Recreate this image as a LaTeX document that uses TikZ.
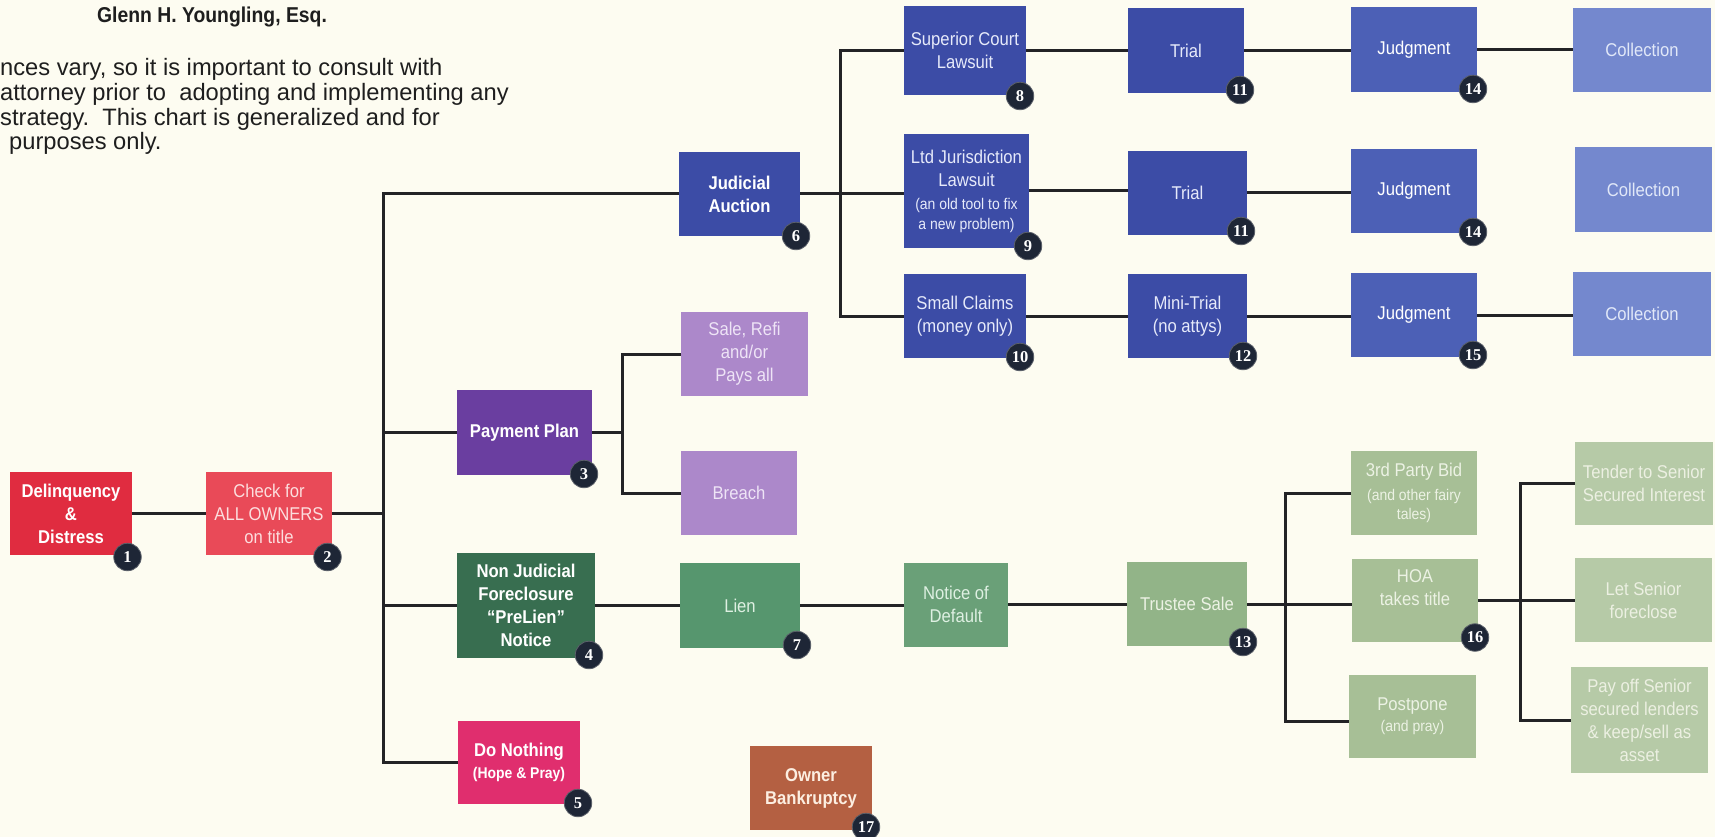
\documentclass[tikz,border=0pt]{standalone}
\usepackage{fontspec}
\setmainfont{Liberation Sans}
\newfontfamily\boxfont[FakeStretch=0.9]{Liberation Sans}
\newfontfamily\numfont{Liberation Serif}
\newcommand\myReg{\boxfont\fontsize{18.5}{23}\selectfont}
\newcommand\myBold{\boxfont\bfseries\fontsize{18.5}{23}\selectfont}
\newcommand\mySmall{\fontsize{15.5}{19}\selectfont}
\newcommand\myNum{\numfont\bfseries\fontsize{16.5}{16.5}\selectfont}
\newcommand\myHead{\boxfont\bfseries\fontsize{21.5}{25}\selectfont}
\newcommand\myPara{\fontsize{23.7}{25}\selectfont}
\definecolor{bg}{RGB}{253,252,241}
\definecolor{linec}{RGB}{35,35,38}
\definecolor{cdel}{RGB}{224,44,64}
\definecolor{cchk}{RGB}{233,74,88}
\definecolor{cpay}{RGB}{106,62,160}
\definecolor{clav}{RGB}{172,136,202}
\definecolor{cnonj}{RGB}{56,110,80}
\definecolor{clien}{RGB}{86,150,110}
\definecolor{cnotice}{RGB}{106,160,120}
\definecolor{ctrust}{RGB}{146,180,136}
\definecolor{csage}{RGB}{167,191,150}
\definecolor{cpale}{RGB}{182,202,167}
\definecolor{cdono}{RGB}{224,46,110}
\definecolor{cblue}{RGB}{60,76,166}
\definecolor{cjudg}{RGB}{76,96,182}
\definecolor{ccoll}{RGB}{116,136,206}
\definecolor{cown}{RGB}{180,96,66}
\definecolor{cbadge}{RGB}{30,38,54}
\definecolor{cbrim}{RGB}{90,95,105}
\definecolor{tchk}{RGB}{252,222,222}
\definecolor{tlav}{RGB}{238,228,246}
\definecolor{tgreen}{RGB}{222,240,226}
\definecolor{tsage}{RGB}{236,242,228}
\definecolor{tpale}{RGB}{236,240,226}
\definecolor{tblue}{RGB}{230,234,250}
\definecolor{tcoll}{RGB}{225,232,248}
\definecolor{town}{RGB}{252,238,225}
\definecolor{ttext}{RGB}{30,30,30}
\begin{document}
\begin{tikzpicture}[x=1pt,y=-1pt,
  box/.style={inner sep=0pt, outer sep=0pt, align=center, text=white, font=\myReg},
  sz/.style 2 args={minimum width=#1pt, minimum height=#2pt},
  conn/.style={draw=linec, line width=3pt},
  badge/.style={circle, fill=cbadge, draw=cbrim, line width=0.8pt, minimum size=27.5pt, inner sep=0pt, text=white, font=\myNum},
  para/.style={font=\myPara, anchor=west, inner sep=0pt, text=ttext}
]
\fill[bg] (0,0) rectangle (1715,837);
\useasboundingbox (0,0) rectangle (1715,837);

% header texts
\node[font=\myHead, text=ttext] (hdr) at (212,17) {Glenn H. Youngling, Esq.};
\node[para] (p1) at (0,69) {nces vary, so it is important to consult with};
\node[para] (p2) at (0,94) {attorney prior to\ \ adopting and implementing any};
\node[para] (p3) at (0,119) {strategy.\ \ This chart is generalized and for};
\node[para] (p4) at (9,143.5) {purposes only.};

% boxes
\node[box,fill=cdel,sz={122}{83},font=\myBold] (del) at (71,513.5) {Delinquency\\\&\\Distress};
\node[box,fill=cchk,sz={126}{83},text=tchk] (chk) at (269,513.5) {Check for\\ALL OWNERS\\on title};
\node[box,fill=cpay,sz={135}{85},font=\myBold] (pay) at (524.5,432.5) {Payment Plan};
\node[box,fill=cnonj,sz={138}{105},font=\myBold] (nonj) at (526,605.5) {Non Judicial\\Foreclosure\\“PreLien”\\Notice};
\node[box,fill=cdono,sz={122}{83},font=\myBold] (dono) at (519,762.5) {Do Nothing\\[-1pt]{\mySmall (Hope \& Pray)}};
\node[box,fill=cblue,sz={121}{84},font=\myBold] (jud) at (739.5,194) {Judicial\\Auction};
\node[box,fill=clien,sz={120}{85},text=tgreen] (lien) at (740,605.5) {Lien};
\node[box,fill=clav,sz={127}{84},text=tlav] (sale) at (744.5,354) {Sale, Refi\\and/or\\Pays all};
\node[box,fill=clav,sz={116}{84},text=tlav] (breach) at (739,493) {Breach};
\node[box,fill=cblue,sz={122}{89},text=tblue] (sup) at (965,50.5) {Superior Court\\Lawsuit};
\node[box,fill=cblue,sz={125}{114},text=tblue] (ltd) at (966.5,191) {Ltd Jurisdiction\\Lawsuit\\{\mySmall (an old tool to fix}\\[-3pt]{\mySmall a new problem)}};
\node[box,fill=cblue,sz={122}{84},text=tblue] (small) at (965,316) {Small Claims\\(money only)};
\node[box,fill=cblue,sz={116}{85},text=tblue] (trialA) at (1186,50.5) {Trial};
\node[box,fill=cblue,sz={119}{84},text=tblue] (trialB) at (1187.5,193) {Trial};
\node[box,fill=cblue,sz={119}{84},text=tblue] (mini) at (1187.5,316) {Mini-Trial\\(no attys)};
\node[box,fill=cjudg,sz={126}{85}] (judgA) at (1414,49.5) {Judgment};
\node[box,fill=cjudg,sz={126}{84}] (judgB) at (1414,191) {Judgment};
\node[box,fill=cjudg,sz={126}{84}] (judgC) at (1414,315) {Judgment};
\node[box,fill=ccoll,sz={138}{84},text=tcoll] (collA) at (1642,50) {Collection};
\node[box,fill=ccoll,sz={137}{85},text=tcoll] (collB) at (1643.5,189.5) {Collection};
\node[box,fill=ccoll,sz={138}{84},text=tcoll] (collC) at (1642,314) {Collection};
\node[box,fill=cnotice,sz={104}{84},text=tgreen] (notice) at (956,604.5) {Notice of\\Default};
\node[box,fill=ctrust,sz={120}{84},text=tsage] (trust) at (1187,604) {Trustee Sale};
\node[box,fill=csage,sz={126}{84},text=tsage] (third) at (1414,493) {3rd Party Bid\\[1pt]{\mySmall (and other fairy}\\[-4pt]{\mySmall tales)}};
\node[box,fill=csage,sz={126}{83}] (hoa) at (1415,600) {};
\node[box,text=tsage] (hoatxt) at (1415,588) {HOA\\takes title};
\node[box,fill=csage,sz={127}{83},text=tsage] (post) at (1412.5,716.5) {Postpone\\[-2pt]{\mySmall (and pray)}};
\node[box,fill=cpale,sz={138}{83},text=tpale] (tender) at (1644,483.5) {Tender to Senior\\Secured Interest};
\node[box,fill=cpale,sz={137}{84},text=tpale] (let) at (1643.5,600) {Let Senior\\foreclose};
\node[box,fill=cpale,sz={137}{106},text=tpale] (payoff) at (1639.5,720) {Pay off Senior\\secured lenders\\\& keep/sell as\\asset};
\node[box,fill=cown,sz={122}{84},font=\myBold,text=town] (own) at (811,788) {Owner\\Bankruptcy};

% trunk coordinates
\coordinate (tA) at (383,0);
\coordinate (tB) at (622,0);
\coordinate (tC) at (840,0);
\coordinate (tD) at (1285,0);
\coordinate (tE) at (1520,0);
\coordinate (pj) at ([yshift=-4.5pt]post.west);

% connectors
\draw[conn] (del.east) -- (chk.west);
\draw[conn] (chk.east) -- (chk.east -| tA);
\draw[conn] (jud.west) -- (tA |- jud.west) -- (tA |- dono.west) -- (dono.west);
\draw[conn] (tA |- pay.west) -- (pay.west);
\draw[conn] (tA |- nonj.west) -- (nonj.west);
\draw[conn] (pay.east) -- (pay.east -| tB);
\draw[conn] (sale.west) -- (tB |- sale.west) -- (tB |- breach.west) -- (breach.west);
\draw[conn] (jud.east) -- (jud.east -| ltd.west);
\draw[conn] (sup.west) -- (tC |- sup.west) -- (tC |- small.west) -- (small.west);
\draw[conn] (sup.east) -- (sup.east -| trialA.west);
\draw[conn] (trialA.east) -- (trialA.east -| judgA.west);
\draw[conn] (judgA.east) -- (judgA.east -| collA.west);
\draw[conn] (ltd.east) -- (ltd.east -| trialB.west);
\draw[conn] (trialB.east) -- (trialB.east -| judgB.west);
\draw[conn] (small.east) -- (small.east -| mini.west);
\draw[conn] (mini.east) -- (mini.east -| judgC.west);
\draw[conn] (judgC.east) -- (judgC.east -| collC.west);
\draw[conn] (nonj.east) -- (nonj.east -| lien.west);
\draw[conn] (lien.east) -- (lien.east -| notice.west);
\draw[conn] (notice.east) -- (notice.east -| trust.west);
\draw[conn] (trust.east) -- (trust.east -| hoa.west);
\draw[conn] (third.west) -- (tD |- third.west) -- (tD |- pj) -- (pj);
\draw[conn] (hoa.east) -- (hoa.east -| let.west);
\draw[conn] (tender.west) -- (tE |- tender.west) -- (tE |- payoff.west) -- (payoff.west);

% badges
\node[badge] (b1) at ([xshift=-4.5pt,yshift=-2pt]del.south east) {1};
\node[badge] (b2) at ([xshift=-4.5pt,yshift=-2pt]chk.south east) {2};
\node[badge] (b3) at ([xshift=-8pt,yshift=1pt]pay.south east) {3};
\node[badge] (b4) at ([xshift=-6pt,yshift=3pt]nonj.south east) {4};
\node[badge] (b5) at ([xshift=-2pt,yshift=1pt]dono.south east) {5};
\node[badge] (b6) at ([xshift=-4pt,yshift=0pt]jud.south east) {6};
\node[badge] (b7) at ([xshift=-3pt,yshift=3pt]lien.south east) {7};
\node[badge] (b8) at ([xshift=-6pt,yshift=-1pt]sup.south east) {8};
\node[badge] (b9) at ([xshift=-1pt,yshift=2pt]ltd.south east) {9};
\node[badge] (b10) at ([xshift=-6pt,yshift=1pt]small.south east) {10};
\node[badge] (b11a) at ([xshift=-4pt,yshift=3pt]trialA.south east) {11};
\node[badge] (b11b) at ([xshift=-6pt,yshift=4pt]trialB.south east) {11};
\node[badge] (b12) at ([xshift=-4pt,yshift=2pt]mini.south east) {12};
\node[badge] (b13) at ([xshift=-4pt,yshift=4pt]trust.south east) {13};
\node[badge] (b14a) at ([xshift=-4pt,yshift=3pt]judgA.south east) {14};
\node[badge] (b14b) at ([xshift=-4pt,yshift=1pt]judgB.south east) {14};
\node[badge] (b15) at ([xshift=-4pt,yshift=2pt]judgC.south east) {15};
\node[badge] (b16) at ([xshift=-3pt,yshift=4pt]hoa.south east) {16};
\node[badge] (b17) at ([xshift=-6pt,yshift=3pt]own.south east) {17};
\end{tikzpicture}
\end{document}
